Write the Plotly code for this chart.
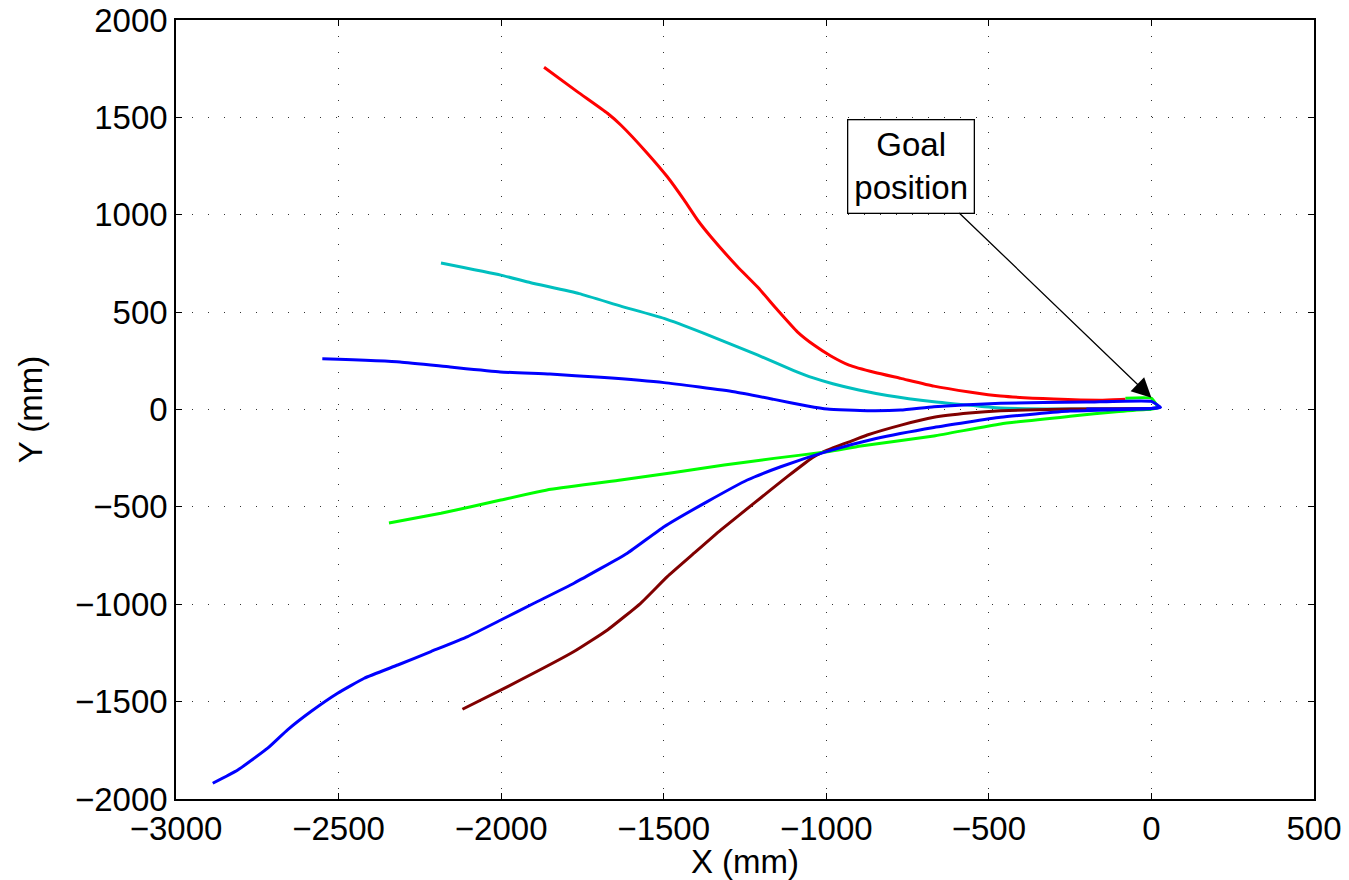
import plotly.graph_objects as go

# Trajectories (mm)
red_x = [-1868, -1765, -1673, -1632, -1550, -1489, -1437, -1396, -1355, -1273, -1212, -1150, -1089, -1038, -986, -930, -850, -771, -669, -560, -464, -300, -150, -80]
red_y = [1757, 1631, 1521, 1461, 1315, 1195, 1075, 973, 887, 733, 630, 511, 399, 331, 275, 228, 190, 160, 120, 90, 69, 54, 48, 52]

cyan_x = [-2185, -2001, -1909, -1760, -1632, -1499, -1376, -1212, -1100, -1040, -980, -900, -812, -669, -464, -250, 0]
cyan_y = [752, 690, 651, 595, 531, 468, 391, 280, 200, 162, 132, 100, 72, 40, 8, 2, 0]

blue1_x = [-2550, -2311, -2157, -2003, -1850, -1694, -1499, -1284, -1161, -1058, -997, -874, -771, -669, -464, -200, 0, 28, 0, -200]
blue1_y = [260, 244, 218, 193, 182, 165, 138, 91, 52, 18, 2, -6, -3, 14, 32, 38, 42, 11, 5, 2]

green_x = [-2345, -2185, -2001, -1847, -1632, -1468, -1314, -1161, -997, -894, -669, -464, -250, -100, 0, 20, 0, -80]
green_y = [-583, -533, -465, -410, -362, -324, -285, -251, -217, -187, -136, -74, -35, -10, 2, 8, 58, 58]

blue2_x = [-2887, -2810, -2718, -2657, -2585, -2503, -2421, -2318, -2216, -2103, -2001, -1899, -1776, -1612, -1499, -1366, -1243, -1140, -997, -850, -669, -464, -250, 0, 28]
blue2_y = [-1919, -1851, -1739, -1645, -1551, -1457, -1380, -1312, -1243, -1166, -1081, -995, -892, -738, -602, -473, -362, -294, -215, -150, -92, -40, -8, 5, 11]

dred_x = [-2119, -1980, -1776, -1673, -1571, -1489, -1407, -1325, -1222, -1120, -1038, -997, -915, -874, -770, -669, -560, -464, -250, 0]
dred_y = [-1539, -1423, -1243, -1132, -995, -858, -738, -619, -481, -345, -242, -208, -157, -131, -80, -40, -18, -6, 3, 5]

series = [
    (red_x, red_y, "#ff0000"),
    (cyan_x, cyan_y, "#00bfbf"),
    (dred_x, dred_y, "#800000"),
    (green_x, green_y, "#00ff00"),
    (blue2_x, blue2_y, "#0000ff"),
    (blue1_x, blue1_y, "#0000ff"),
]

x_ticks = [-3000, -2500, -2000, -1500, -1000, -500, 0, 500]
y_ticks = [-2000, -1500, -1000, -500, 0, 500, 1000, 1500, 2000]

fig = go.Figure()
for xs, ys, c in series:
    fig.add_trace(go.Scatter(x=xs, y=ys, mode="lines",
                             line=dict(color=c, width=3, shape="spline", smoothing=0.4),
                             showlegend=False))

font = dict(family="Liberation Sans, Arial, sans-serif", size=33, color="black")
axis_common = dict(showline=True, mirror="ticks", linecolor="black", linewidth=1.5,
                   ticks="inside", ticklen=6, tickcolor="black", tickwidth=1,
                   showgrid=True, gridcolor="rgba(0,0,0,0.8)", griddash="1px,15px", gridwidth=1.3,
                   zeroline=False, tickfont=font, automargin=False)

fig.update_xaxes(range=[-3000, 500], tickvals=x_ticks,
                 ticktext=[str(v).replace("-", "\u2212") for v in x_ticks],
                 title=dict(text="X (mm)", font=font, standoff=0), **axis_common)
fig.update_yaxes(range=[-2000, 2000], tickvals=y_ticks,
                 ticktext=[str(v).replace("-", "\u2212") for v in y_ticks],
                 title=dict(text="Y (mm)", font=font, standoff=22), **axis_common)

fig.add_annotation(x=0, y=60, ax=-741, ay=1250, axref="x", ayref="y", xref="x", yref="y",
                   text="Goal<br>position", showarrow=True, arrowhead=2, arrowsize=3, arrowwidth=1.3,
                   arrowcolor="black", font=font, bgcolor="white", bordercolor="black",
                   borderwidth=1.3, borderpad=6)

fig.update_layout(width=1349, height=880, margin=dict(l=176, r=35, t=20, b=81),
                  plot_bgcolor="white", paper_bgcolor="white", font=font)

fig.write_html("out.html")
